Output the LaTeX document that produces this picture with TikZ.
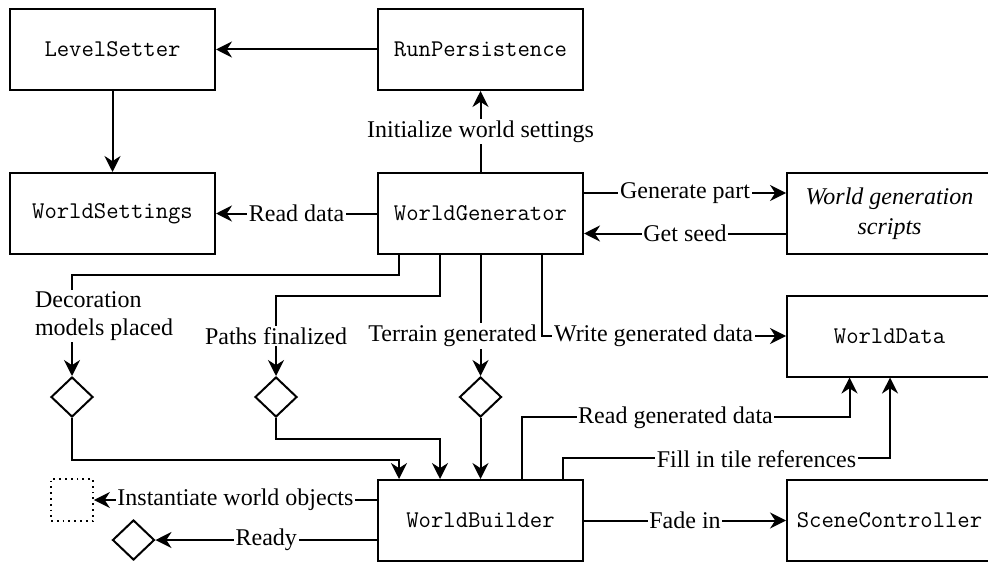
\documentclass[tikz,border=0pt]{standalone}
\usepackage{fontspec}
\setmainfont{Liberation Serif}
\usetikzlibrary{arrows.meta,shapes.geometric}
\begin{document}
\begin{tikzpicture}[x=0.5pt,y=-0.5pt,line width=1pt,
  lbl/.style={fill=white,inner sep=0.8pt,font=\fontsize{12}{14}\selectfont},
  box/.style={draw,line width=1pt,minimum width=102.5pt,minimum height=40.5pt,inner sep=0pt,font=\fontsize{12}{14}\selectfont\ttfamily},
  dia/.style={draw,diamond,minimum width=21pt,minimum height=20pt,inner sep=0pt},
  arr/.style={-{Stealth[length=8pt,width=8pt,inset=2.6pt]}}]
\useasboundingbox (0,0) rectangle (988,561);
% boxes
\node[box] (ls) at (112.5,49.5) {LevelSetter};
\node[box] (rp) at (480.5,49.5) {RunPersistence};
\node[box] (ws) at (112.5,213.5) {WorldSettings};
\node[box] (wg) at (480.5,213.5) {WorldGenerator};
\node[box,font=\fontsize{12}{15}\selectfont\itshape,align=center] (sc) at (889.5,213.5) {World generation\\scripts};
\node[box] (wd) at (889.5,336) {WorldData};
\node[box] (wb) at (480.5,520.5) {WorldBuilder};
\node[box] (scn) at (889.5,520.5) {SceneController};
\node[dia] (d1) at (72,397) {};
\node[dia] (d2) at (276,397) {};
\node[dia] (d3) at (480.5,397) {};
\node[draw,dotted,line width=0.9pt,minimum size=21pt,inner sep=0pt] (obj) at (72,500) {};
\node[dia] (d4) at (133.5,540) {};
% straight connectors
\draw[arr] (rp) -- (ls);
\draw[arr] (ls) -- (ws);
\draw[arr] (wg) -- node[lbl] {Initialize world settings} (rp);
\draw[arr] (wg) -- node[lbl] {Read data} (ws);
\draw[arr] ([yshift=10.25pt]wg.east) -- node[lbl] {Generate part} ([yshift=10.25pt]sc.west);
\draw[arr] ([yshift=-10pt]sc.west) -- node[lbl] {Get seed} ([yshift=-10pt]wg.east);
\draw[arr] (wb) -- node[lbl] {Fade in} (scn);
\draw[arr] (wb.west |- obj) -- node[lbl] {Instantiate world objects} (obj);
\draw[arr] (wb.west |- d4) -- node[lbl] {Ready} (d4);
% generator to diamonds
\draw[arr] ([xshift=-40.75pt]wg.south) -- ++(0,20) -| (d1.north);
\node[lbl,align=left,font=\fontsize{12}{14}\selectfont] (l1) at (104,316) {Decoration\\models placed};
\draw[arr] ([xshift=-20.25pt]wg.south) -- ++(0,41) -| (d2.north);
\node[lbl] (l2) at (276,336) {Paths finalized};
\draw[arr] (wg.south) -- (d3.north);
\node[lbl] (l3) at (452.5,336) {Terrain generated};
\draw[arr] ([xshift=30.75pt]wg.south) |- (wd.west);
\node[lbl] (l4) at (653.5,336) {Write generated data};
% diamonds to builder
\draw[arr] (d1.south) -- ++(0,42) -| ([xshift=-40.75pt]wb.north);
\draw[arr] (d2.south) -- ++(0,21) -| ([xshift=-20.25pt]wb.north);
\draw[arr] (d3.south) -- (wb.north);
% builder to data
\draw[arr] ([xshift=20.75pt]wb.north) -- ++(0,-62) -| ([xshift=-20pt]wd.south);
\node[lbl] (l5) at (675.5,418) {Read generated data};
\draw[arr] ([xshift=41.25pt]wb.north) -- ++(0,-21) -| ([xshift=0.25pt]wd.south);
\node[lbl] (l6) at (756.5,459) {Fill in tile references};
\end{tikzpicture}
\end{document}
